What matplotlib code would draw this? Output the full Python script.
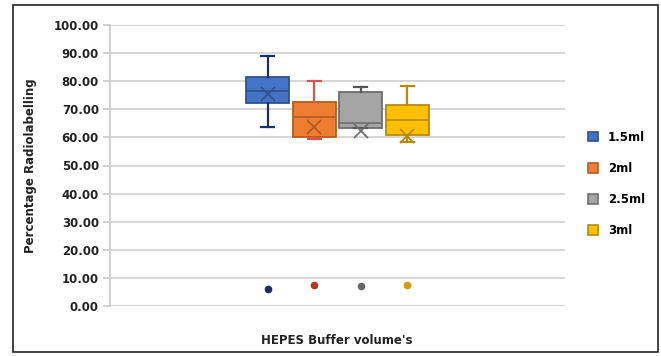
import matplotlib.pyplot as plt
from matplotlib.patches import Patch, Rectangle

labels = ['1.5ml', '2ml', '2.5ml', '3ml']
whislo = [63.6, 59.6, 63.2, 58.2]
q1 = [72.1, 60.0, 63.2, 60.7]
med = [76.4, 67.1, 65.0, 66.1]
q3 = [81.4, 72.5, 76.1, 71.4]
whishi = [88.9, 80.0, 77.9, 78.2]
means = [75.4, 63.6, 62.1, 60.4]
outliers = [6.0, 7.5, 7.0, 7.5]

fills = ['#4472C4', '#ED7D31', '#A5A5A5', '#FFC000']
edges = ['#2F528F', '#B85A1E', '#6E6E6E', '#B88A00']
whisk = ['#1F2F5F', '#D9534F', '#555555', '#B88A00']
dots = ['#1F2A6B', '#B0391B', '#666666', '#D49A00']

fig = plt.figure(figsize=(6.61, 3.56), dpi=100)
ax = fig.add_axes([110 / 661, 1 - 306 / 356, 455 / 661, 281 / 356])

pos = [1, 2, 3, 4]
for i in range(4):
    st = [dict(whislo=whislo[i], q1=q1[i], med=med[i], q3=q3[i],
               whishi=whishi[i], mean=means[i], fliers=[outliers[i]])]
    ax.bxp(st, positions=[pos[i]], widths=0.92, capwidths=0.27,
           showmeans=True, patch_artist=True,
           boxprops=dict(facecolor=fills[i], edgecolor=edges[i], linewidth=1.3),
           medianprops=dict(color=edges[i], linewidth=1.2),
           whiskerprops=dict(color=whisk[i], linewidth=1.6),
           capprops=dict(color=whisk[i], linewidth=1.6),
           meanprops=dict(marker='x', markeredgecolor=edges[i], markersize=10,
                          markeredgewidth=1.3),
           flierprops=dict(marker='o', markerfacecolor=dots[i],
                           markeredgecolor=dots[i], markersize=4.5))

ax.set_xlim(2.5 - 4.89, 2.5 + 4.89)
ax.set_ylim(0, 100)
ax.set_yticks(range(0, 101, 10))
ax.set_yticklabels(['%.2f' % v for v in range(0, 101, 10)],
                   fontsize=8.5, fontweight='bold', color='#222222')
ax.set_xticks([])
ax.yaxis.grid(True, color='#D0D0D0', linewidth=1.2)
ax.set_axisbelow(True)
for s in ['top', 'right', 'bottom']:
    ax.spines[s].set_visible(False)
ax.spines['left'].set_color('#C8C8C8')
ax.spines['left'].set_linewidth(1.2)
ax.tick_params(axis='y', length=5, color='#C8C8C8', width=1.2, pad=3)

ax.set_ylabel('Percentage Radiolabelling', fontsize=8.5, fontweight='bold',
              color='#222222', labelpad=12)
fig.text(337 / 661, 1 - 340 / 356, "HEPES Buffer volume's", ha='center',
         va='center', fontsize=8.5, fontweight='bold', color='#222222')

handles = [Patch(facecolor=fills[i], edgecolor=edges[i], linewidth=1.2)
           for i in range(4)]
fig.legend(handles, labels, loc='center left',
           bbox_to_anchor=(577 / 661, 1 - 184 / 356), frameon=False,
           handlelength=0.9, handleheight=0.9,
           labelspacing=1.55, handletextpad=0.8,
           prop=dict(weight='bold', size=8.5))

fig.patches.append(Rectangle((13 / 661, 4 / 356), 645 / 661, 347 / 356,
                             transform=fig.transFigure, fill=False,
                             edgecolor='#222222', linewidth=1.2))

fig.savefig('out.png', dpi=100)
